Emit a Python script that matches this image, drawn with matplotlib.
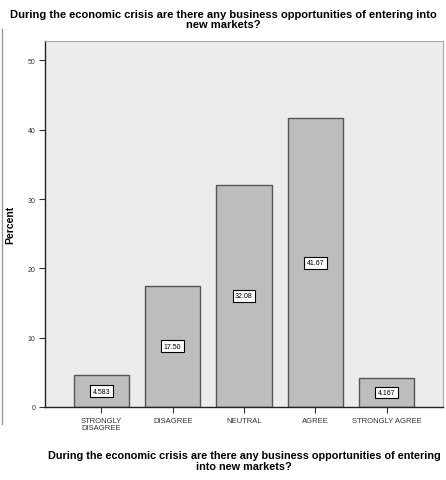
import matplotlib
matplotlib.use("Agg")
import matplotlib.pyplot as plt
from matplotlib.lines import Line2D

# data
categories = ["STRONGLY\nDISAGREE", "DISAGREE", "NEUTRAL", "AGREE", "STRONGLY AGREE"]
percent = [4.583, 17.50, 32.08, 41.67, 4.167]
value_labels = ["4.583", "17.50", "32.08", "41.67", "4.167"]
yticks = [0, 10, 20, 30, 40, 50]

question = "During the economic crisis are there any business opportunities of entering into\nnew markets?"
xlabel = "During the economic crisis are there any business opportunities of entering\ninto new markets?"

plt.rcParams['font.family'] = ['Liberation Sans', 'DejaVu Sans']

fig = plt.figure(figsize=(4.46, 4.81), dpi=100)
ax = fig.add_axes([45 / 446, 1 - 408 / 481, 398 / 446, 366 / 481])
ax.set_facecolor("#ececec")

x = list(range(len(categories)))
ax.bar(x, percent, width=0.78, color="#bdbdbd", edgecolor="#555555", linewidth=1.0, zorder=2)

# value labels in white boxes at the middle of each bar
for xi, v, lab in zip(x, percent, value_labels):
    ax.text(xi, v / 2, lab, ha="center", va="center", fontsize=5, zorder=3,
            bbox=dict(boxstyle="square,pad=0.35", facecolor="white", edgecolor="black", linewidth=0.8))

ax.set_xlim(-0.79, 4.79)
ax.set_ylim(0, 52.8)
ax.set_yticks(yticks)
ax.set_yticklabels([str(t) for t in yticks], fontsize=5, color="#333333")
ax.set_xticks(x)
ax.set_xticklabels(categories, fontsize=5.5, color="#333333", linespacing=1.0)
ax.tick_params(axis="both", length=4, width=0.8, color="#333333", pad=3)

for side in ["top", "right"]:
    ax.spines[side].set_color("#aaaaaa")
    ax.spines[side].set_linewidth(0.8)
for side in ["left", "bottom"]:
    ax.spines[side].set_color("#222222")
    ax.spines[side].set_linewidth(1.0)

ax.set_ylabel("Percent", fontsize=7.5, fontweight="bold", labelpad=9)
ax.set_xlabel(xlabel, fontsize=7.8, fontweight="bold", labelpad=14, linespacing=1.1)
fig.text(0.5, 1 - 20 / 481, question, ha="center", va="center", fontsize=8,
         fontweight="bold", linespacing=1.1)

# thin outer frame line on the left
fig.add_artist(Line2D([2 / 446, 2 / 446], [1 - 425 / 481, 1 - 30 / 481],
                      transform=fig.transFigure, color="#999999", linewidth=1.0))

fig.savefig("out.png", dpi=100, facecolor="white")
